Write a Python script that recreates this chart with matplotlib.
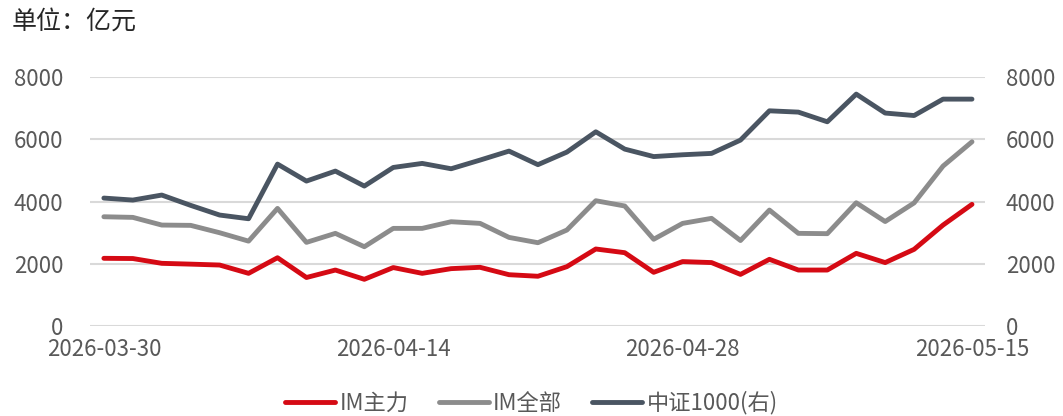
import matplotlib
matplotlib.use("Agg")
from matplotlib import pyplot as plt

plt.rcParams['font.family'] = ['Noto Sans CJK SC', 'DejaVu Sans']

dates = [
    "2026-03-30", "2026-03-31", "2026-04-01", "2026-04-02", "2026-04-03",
    "2026-04-07", "2026-04-08", "2026-04-09", "2026-04-10", "2026-04-13",
    "2026-04-14", "2026-04-15", "2026-04-16", "2026-04-17", "2026-04-20",
    "2026-04-21", "2026-04-22", "2026-04-23", "2026-04-24", "2026-04-27",
    "2026-04-28", "2026-04-29", "2026-04-30", "2026-05-06", "2026-05-07",
    "2026-05-08", "2026-05-11", "2026-05-12", "2026-05-13", "2026-05-14",
    "2026-05-15",
]
im_main = [
    2177, 2170, 2016, 1990, 1961, 1694, 2196, 1560, 1800, 1502,
    1880, 1694, 1845, 1888, 1650, 1600, 1909, 2477, 2358, 1727,
    2072, 2040, 1660, 2145, 1800, 1800, 2337, 2040, 2466, 3247,
    3913,
]
im_all = [
    3514, 3494, 3247, 3237, 3000, 2730, 3783, 2690, 2980, 2550,
    3140, 3140, 3354, 3301, 2850, 2679, 3087, 4030, 3860, 2790,
    3301, 3463, 2750, 3729, 2980, 2970, 3964, 3360, 3960, 5144,
    5925,
]
csi1000 = [
    4115, 4051, 4212, 3880, 3569, 3450, 5208, 4662, 4983, 4501,
    5100, 5230, 5058, 5337, 5626, 5190, 5594, 6247, 5690, 5450,
    5508, 5552, 5980, 6922, 6880, 6569, 7459, 6850, 6770, 7298,
    7298,
]
series_names = ["IM主力", "IM全部", "中证1000(右)"]
colors = ["#D50A14", "#8C8C8C", "#4A5562"]

fig = plt.figure(figsize=(10.63, 4.16), dpi=100)
ax = fig.add_axes([90 / 1063, 1 - 326 / 416, 895 / 1063, (326 - 77.3) / 416])
ax2 = ax.twinx()

x = list(range(len(dates)))
h1, = ax.plot(x, im_main, color=colors[0], lw=3.5, solid_capstyle='round',
              solid_joinstyle='round', zorder=3)
h2, = ax.plot(x, im_all, color=colors[1], lw=3.5, solid_capstyle='round',
              solid_joinstyle='round', zorder=3)
h3, = ax2.plot(x, csi1000, color=colors[2], lw=3.5, solid_capstyle='round',
               solid_joinstyle='round', zorder=3)

yticks = [0, 2000, 4000, 6000, 8000]
for a in (ax, ax2):
    a.set_ylim(0, 8000)
    a.set_yticks(yticks)
    a.set_xlim(-0.48, 30.45)
    for s in a.spines.values():
        s.set_visible(False)
ax.tick_params(axis='y', length=0, labelsize=16, labelcolor="#595959", pad=19)
ax2.tick_params(axis='y', length=0, labelsize=16, labelcolor="#595959", pad=15)

ax.grid(axis='y', color="#D9D9D9", lw=1.5)
ax.set_axisbelow(True)
ax.set_xticks([0, 10, 20, 30])
ax.set_xticklabels([dates[i] for i in (0, 10, 20, 30)])
ax.tick_params(axis='x', length=0, labelsize=16, labelcolor="#595959", pad=9)

fig.text(12 / 1063, 1 - 22 / 416, "单位：亿元", fontsize=18, color="#262626",
         va='center', ha='left')

fig.legend([h1, h2, h3], series_names, loc='center', ncol=3,
           bbox_to_anchor=(0.5, 1 - 403 / 416), frameon=False, fontsize=16,
           handlelength=2.25, handletextpad=0.2, columnspacing=1.35,
           labelcolor="#595959")

fig.savefig("out.png", dpi=100)
